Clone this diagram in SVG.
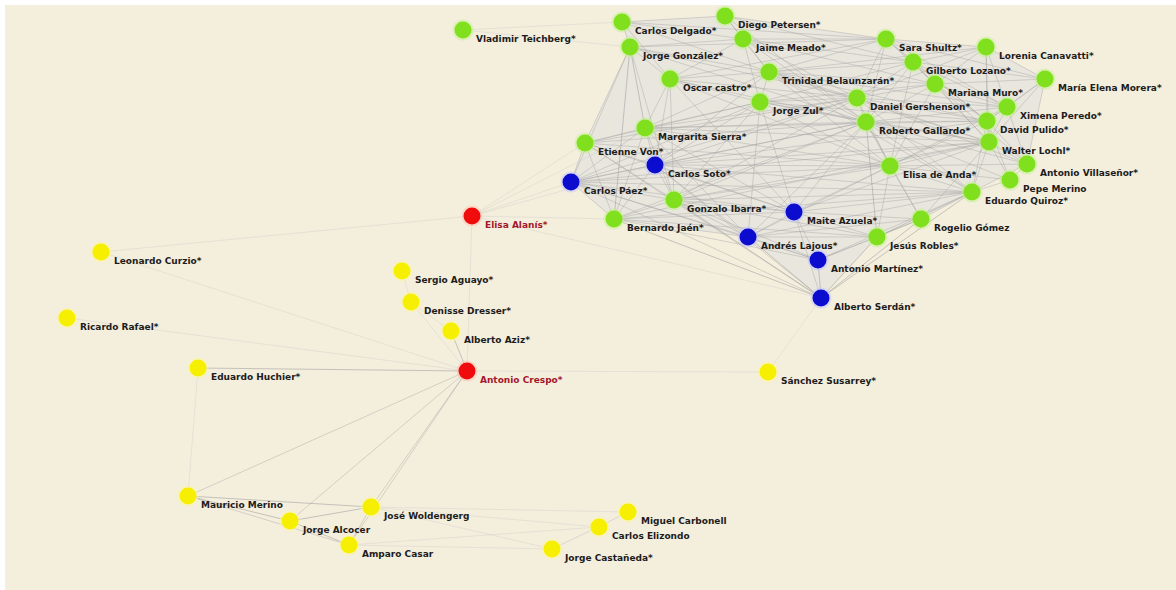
<svg xmlns="http://www.w3.org/2000/svg" width="1176" height="590" viewBox="0 0 1176 590">
<style>
  .bg { fill: #f4eedd; }
  .edge { stroke: #a0a0a0; stroke-width: 1; stroke-opacity: 0.4; fill: none; }
  .edge.faint { stroke: #c8c8c8; stroke-opacity: 0.35; }
  .edge.mid { stroke: #a4a4a4; stroke-opacity: 0.6; }
  .hull { fill: #dcdcdf; fill-opacity: 0.45; stroke: none; }
  .node .halo { opacity: 0.5; }
  .node text { font-family: "DejaVu Sans", Verdana, sans-serif; font-size: 9px; font-weight: bold; fill: #1c1c1c; }
  .green .dot { fill: #80e01e; }
  .green .halo { fill: #c2f28a; }
  .yellow .dot { fill: #f6f000; }
  .yellow .halo { fill: #fbf8a0; }
  .blue .dot { fill: #0c0ccf; }
  .blue .halo { fill: #c4c4ff; }
  .red .dot { fill: #f00c0c; }
  .red .halo { fill: #ffc0b0; }
  .red text { fill: #a3182a; }
</style>

<!-- canvas -->
<rect class="bg" x="0" y="0" width="1176" height="590"/>
<rect x="0" y="0" width="1176" height="5" fill="#ffffff"/>
<rect x="0" y="0" width="5" height="590" fill="#ffffff"/>

<g id="connectors">
  <!-- dense core of the upper cluster -->
  <polygon class="hull" points="630,47 622,22 725,16 886,39 986,47 1045,79 1027,164 972,192 921,219 877,237 821,298 748,237 614,219 571,182 585,143"/>
  <g class="cluster-edges">
    <line class="edge" x1="630" y1="47" x2="585" y2="143"/>
    <line class="edge mid" x1="630" y1="47" x2="645" y2="128"/>
    <line class="edge mid" x1="630" y1="47" x2="614" y2="219"/>
    <line class="edge" x1="630" y1="47" x2="571" y2="182"/>
    <line class="edge" x1="630" y1="47" x2="670" y2="79"/>
    <line class="edge" x1="630" y1="47" x2="743" y2="39"/>
    <line class="edge" x1="630" y1="47" x2="769" y2="72"/>
    <line class="edge" x1="630" y1="47" x2="866" y2="122"/>
    <line class="edge" x1="630" y1="47" x2="857" y2="98"/>
    <line class="edge" x1="630" y1="47" x2="622" y2="22"/>
    <line class="edge" x1="630" y1="47" x2="886" y2="39"/>
    <line class="edge" x1="630" y1="47" x2="674" y2="200"/>
    <line class="edge" x1="622" y1="22" x2="725" y2="16"/>
    <line class="edge" x1="622" y1="22" x2="743" y2="39"/>
    <line class="edge" x1="622" y1="22" x2="769" y2="72"/>
    <line class="edge" x1="622" y1="22" x2="886" y2="39"/>
    <line class="edge" x1="622" y1="22" x2="670" y2="79"/>
    <line class="edge" x1="725" y1="16" x2="743" y2="39"/>
    <line class="edge" x1="725" y1="16" x2="886" y2="39"/>
    <line class="edge" x1="725" y1="16" x2="769" y2="72"/>
    <line class="edge" x1="725" y1="16" x2="913" y2="62"/>
    <line class="edge" x1="725" y1="16" x2="866" y2="122"/>
    <line class="edge" x1="743" y1="39" x2="769" y2="72"/>
    <line class="edge" x1="743" y1="39" x2="886" y2="39"/>
    <line class="edge" x1="743" y1="39" x2="857" y2="98"/>
    <line class="edge" x1="743" y1="39" x2="760" y2="102"/>
    <line class="edge" x1="743" y1="39" x2="913" y2="62"/>
    <line class="edge" x1="743" y1="39" x2="935" y2="84"/>
    <line class="edge" x1="743" y1="39" x2="670" y2="79"/>
    <line class="edge" x1="743" y1="39" x2="866" y2="122"/>
    <line class="edge" x1="670" y1="79" x2="769" y2="72"/>
    <line class="edge" x1="670" y1="79" x2="760" y2="102"/>
    <line class="edge" x1="670" y1="79" x2="645" y2="128"/>
    <line class="edge" x1="670" y1="79" x2="655" y2="165"/>
    <line class="edge" x1="670" y1="79" x2="857" y2="98"/>
    <line class="edge" x1="670" y1="79" x2="866" y2="122"/>
    <line class="edge" x1="670" y1="79" x2="674" y2="200"/>
    <line class="edge" x1="670" y1="79" x2="890" y2="166"/>
    <line class="edge" x1="670" y1="79" x2="886" y2="39"/>
    <line class="edge" x1="670" y1="79" x2="794" y2="212"/>
    <line class="edge" x1="769" y1="72" x2="886" y2="39"/>
    <line class="edge" x1="769" y1="72" x2="913" y2="62"/>
    <line class="edge" x1="769" y1="72" x2="935" y2="84"/>
    <line class="edge" x1="769" y1="72" x2="857" y2="98"/>
    <line class="edge" x1="769" y1="72" x2="866" y2="122"/>
    <line class="edge" x1="769" y1="72" x2="760" y2="102"/>
    <line class="edge" x1="769" y1="72" x2="1007" y2="107"/>
    <line class="edge" x1="769" y1="72" x2="987" y2="121"/>
    <line class="edge" x1="769" y1="72" x2="989" y2="142"/>
    <line class="edge" x1="769" y1="72" x2="986" y2="47"/>
    <line class="edge" x1="769" y1="72" x2="890" y2="166"/>
    <line class="edge" x1="769" y1="72" x2="645" y2="128"/>
    <line class="edge" x1="769" y1="72" x2="655" y2="165"/>
    <line class="edge" x1="769" y1="72" x2="972" y2="192"/>
    <line class="edge" x1="760" y1="102" x2="857" y2="98"/>
    <line class="edge" x1="760" y1="102" x2="866" y2="122"/>
    <line class="edge" x1="760" y1="102" x2="645" y2="128"/>
    <line class="edge" x1="760" y1="102" x2="655" y2="165"/>
    <line class="edge" x1="760" y1="102" x2="674" y2="200"/>
    <line class="edge" x1="760" y1="102" x2="890" y2="166"/>
    <line class="edge" x1="760" y1="102" x2="935" y2="84"/>
    <line class="edge" x1="760" y1="102" x2="913" y2="62"/>
    <line class="edge" x1="760" y1="102" x2="989" y2="142"/>
    <line class="edge" x1="760" y1="102" x2="987" y2="121"/>
    <line class="edge" x1="760" y1="102" x2="585" y2="143"/>
    <line class="edge" x1="760" y1="102" x2="571" y2="182"/>
    <line class="edge" x1="760" y1="102" x2="794" y2="212"/>
    <line class="edge" x1="760" y1="102" x2="748" y2="237"/>
    <line class="edge" x1="886" y1="39" x2="986" y2="47"/>
    <line class="edge" x1="886" y1="39" x2="913" y2="62"/>
    <line class="edge" x1="886" y1="39" x2="935" y2="84"/>
    <line class="edge" x1="886" y1="39" x2="857" y2="98"/>
    <line class="edge" x1="886" y1="39" x2="866" y2="122"/>
    <line class="edge" x1="886" y1="39" x2="1007" y2="107"/>
    <line class="edge" x1="886" y1="39" x2="987" y2="121"/>
    <line class="edge" x1="886" y1="39" x2="1045" y2="79"/>
    <line class="edge" x1="986" y1="47" x2="913" y2="62"/>
    <line class="edge" x1="986" y1="47" x2="935" y2="84"/>
    <line class="edge" x1="986" y1="47" x2="1045" y2="79"/>
    <line class="edge" x1="986" y1="47" x2="1007" y2="107"/>
    <line class="edge" x1="986" y1="47" x2="987" y2="121"/>
    <line class="edge" x1="986" y1="47" x2="989" y2="142"/>
    <line class="edge" x1="986" y1="47" x2="857" y2="98"/>
    <line class="edge" x1="913" y1="62" x2="935" y2="84"/>
    <line class="edge" x1="913" y1="62" x2="857" y2="98"/>
    <line class="edge" x1="913" y1="62" x2="866" y2="122"/>
    <line class="edge" x1="913" y1="62" x2="1007" y2="107"/>
    <line class="edge" x1="913" y1="62" x2="987" y2="121"/>
    <line class="edge" x1="913" y1="62" x2="989" y2="142"/>
    <line class="edge" x1="913" y1="62" x2="1045" y2="79"/>
    <line class="edge" x1="913" y1="62" x2="890" y2="166"/>
    <line class="edge" x1="935" y1="84" x2="1045" y2="79"/>
    <line class="edge" x1="935" y1="84" x2="1007" y2="107"/>
    <line class="edge" x1="935" y1="84" x2="987" y2="121"/>
    <line class="edge" x1="935" y1="84" x2="989" y2="142"/>
    <line class="edge" x1="935" y1="84" x2="866" y2="122"/>
    <line class="edge" x1="935" y1="84" x2="857" y2="98"/>
    <line class="edge" x1="935" y1="84" x2="890" y2="166"/>
    <line class="edge" x1="935" y1="84" x2="1027" y2="164"/>
    <line class="edge" x1="1045" y1="79" x2="1007" y2="107"/>
    <line class="edge" x1="1045" y1="79" x2="987" y2="121"/>
    <line class="edge" x1="1045" y1="79" x2="989" y2="142"/>
    <line class="edge" x1="1045" y1="79" x2="1027" y2="164"/>
    <line class="edge" x1="857" y1="98" x2="866" y2="122"/>
    <line class="edge" x1="857" y1="98" x2="1007" y2="107"/>
    <line class="edge" x1="857" y1="98" x2="987" y2="121"/>
    <line class="edge" x1="857" y1="98" x2="989" y2="142"/>
    <line class="edge" x1="857" y1="98" x2="890" y2="166"/>
    <line class="edge" x1="857" y1="98" x2="645" y2="128"/>
    <line class="edge" x1="857" y1="98" x2="655" y2="165"/>
    <line class="edge" x1="857" y1="98" x2="674" y2="200"/>
    <line class="edge" x1="857" y1="98" x2="585" y2="143"/>
    <line class="edge" x1="857" y1="98" x2="571" y2="182"/>
    <line class="edge" x1="857" y1="98" x2="1027" y2="164"/>
    <line class="edge" x1="857" y1="98" x2="972" y2="192"/>
    <line class="edge" x1="866" y1="122" x2="1007" y2="107"/>
    <line class="edge" x1="866" y1="122" x2="987" y2="121"/>
    <line class="edge" x1="866" y1="122" x2="989" y2="142"/>
    <line class="edge" x1="866" y1="122" x2="890" y2="166"/>
    <line class="edge" x1="866" y1="122" x2="645" y2="128"/>
    <line class="edge" x1="866" y1="122" x2="655" y2="165"/>
    <line class="edge" x1="866" y1="122" x2="571" y2="182"/>
    <line class="edge" x1="866" y1="122" x2="585" y2="143"/>
    <line class="edge" x1="866" y1="122" x2="674" y2="200"/>
    <line class="edge" x1="866" y1="122" x2="614" y2="219"/>
    <line class="edge" x1="866" y1="122" x2="794" y2="212"/>
    <line class="edge" x1="866" y1="122" x2="748" y2="237"/>
    <line class="edge mid" x1="866" y1="122" x2="877" y2="237"/>
    <line class="edge" x1="866" y1="122" x2="972" y2="192"/>
    <line class="edge" x1="866" y1="122" x2="1010" y2="180"/>
    <line class="edge" x1="866" y1="122" x2="1027" y2="164"/>
    <line class="edge" x1="866" y1="122" x2="921" y2="219"/>
    <line class="edge" x1="1007" y1="107" x2="987" y2="121"/>
    <line class="edge" x1="1007" y1="107" x2="989" y2="142"/>
    <line class="edge" x1="1007" y1="107" x2="1027" y2="164"/>
    <line class="edge" x1="1007" y1="107" x2="890" y2="166"/>
    <line class="edge" x1="987" y1="121" x2="989" y2="142"/>
    <line class="edge" x1="987" y1="121" x2="1027" y2="164"/>
    <line class="edge" x1="987" y1="121" x2="1010" y2="180"/>
    <line class="edge" x1="987" y1="121" x2="972" y2="192"/>
    <line class="edge" x1="987" y1="121" x2="890" y2="166"/>
    <line class="edge" x1="987" y1="121" x2="645" y2="128"/>
    <line class="edge" x1="987" y1="121" x2="655" y2="165"/>
    <line class="edge" x1="989" y1="142" x2="1027" y2="164"/>
    <line class="edge" x1="989" y1="142" x2="1010" y2="180"/>
    <line class="edge" x1="989" y1="142" x2="972" y2="192"/>
    <line class="edge" x1="989" y1="142" x2="890" y2="166"/>
    <line class="edge" x1="989" y1="142" x2="921" y2="219"/>
    <line class="edge" x1="989" y1="142" x2="645" y2="128"/>
    <line class="edge" x1="989" y1="142" x2="655" y2="165"/>
    <line class="edge" x1="989" y1="142" x2="571" y2="182"/>
    <line class="edge" x1="989" y1="142" x2="674" y2="200"/>
    <line class="edge" x1="989" y1="142" x2="614" y2="219"/>
    <line class="edge" x1="989" y1="142" x2="794" y2="212"/>
    <line class="edge" x1="645" y1="128" x2="585" y2="143"/>
    <line class="edge" x1="645" y1="128" x2="655" y2="165"/>
    <line class="edge" x1="645" y1="128" x2="571" y2="182"/>
    <line class="edge" x1="645" y1="128" x2="674" y2="200"/>
    <line class="edge" x1="645" y1="128" x2="614" y2="219"/>
    <line class="edge" x1="645" y1="128" x2="890" y2="166"/>
    <line class="edge" x1="645" y1="128" x2="794" y2="212"/>
    <line class="edge" x1="645" y1="128" x2="748" y2="237"/>
    <line class="edge" x1="585" y1="143" x2="655" y2="165"/>
    <line class="edge" x1="585" y1="143" x2="571" y2="182"/>
    <line class="edge" x1="585" y1="143" x2="674" y2="200"/>
    <line class="edge" x1="585" y1="143" x2="614" y2="219"/>
    <line class="edge" x1="585" y1="143" x2="890" y2="166"/>
    <line class="edge" x1="585" y1="143" x2="794" y2="212"/>
    <line class="edge" x1="585" y1="143" x2="821" y2="298"/>
    <line class="edge" x1="655" y1="165" x2="571" y2="182"/>
    <line class="edge" x1="655" y1="165" x2="674" y2="200"/>
    <line class="edge" x1="655" y1="165" x2="614" y2="219"/>
    <line class="edge" x1="655" y1="165" x2="890" y2="166"/>
    <line class="edge" x1="655" y1="165" x2="794" y2="212"/>
    <line class="edge" x1="655" y1="165" x2="748" y2="237"/>
    <line class="edge" x1="655" y1="165" x2="972" y2="192"/>
    <line class="edge" x1="655" y1="165" x2="821" y2="298"/>
    <line class="edge" x1="571" y1="182" x2="674" y2="200"/>
    <line class="edge" x1="571" y1="182" x2="614" y2="219"/>
    <line class="edge" x1="571" y1="182" x2="890" y2="166"/>
    <line class="edge" x1="571" y1="182" x2="794" y2="212"/>
    <line class="edge" x1="571" y1="182" x2="748" y2="237"/>
    <line class="edge" x1="571" y1="182" x2="821" y2="298"/>
    <line class="edge" x1="571" y1="182" x2="818" y2="260"/>
    <line class="edge" x1="571" y1="182" x2="972" y2="192"/>
    <line class="edge" x1="890" y1="166" x2="1027" y2="164"/>
    <line class="edge" x1="890" y1="166" x2="1010" y2="180"/>
    <line class="edge" x1="890" y1="166" x2="972" y2="192"/>
    <line class="edge" x1="890" y1="166" x2="921" y2="219"/>
    <line class="edge" x1="890" y1="166" x2="877" y2="237"/>
    <line class="edge" x1="890" y1="166" x2="674" y2="200"/>
    <line class="edge" x1="890" y1="166" x2="794" y2="212"/>
    <line class="edge" x1="890" y1="166" x2="748" y2="237"/>
    <line class="edge" x1="1027" y1="164" x2="1010" y2="180"/>
    <line class="edge" x1="1027" y1="164" x2="972" y2="192"/>
    <line class="edge" x1="1010" y1="180" x2="972" y2="192"/>
    <line class="edge" x1="972" y1="192" x2="921" y2="219"/>
    <line class="edge mid" x1="972" y1="192" x2="877" y2="237"/>
    <line class="edge" x1="972" y1="192" x2="794" y2="212"/>
    <line class="edge" x1="972" y1="192" x2="748" y2="237"/>
    <line class="edge" x1="972" y1="192" x2="818" y2="260"/>
    <line class="edge mid" x1="972" y1="192" x2="821" y2="298"/>
    <line class="edge" x1="972" y1="192" x2="674" y2="200"/>
    <line class="edge" x1="972" y1="192" x2="614" y2="219"/>
    <line class="edge" x1="674" y1="200" x2="614" y2="219"/>
    <line class="edge" x1="674" y1="200" x2="794" y2="212"/>
    <line class="edge" x1="674" y1="200" x2="748" y2="237"/>
    <line class="edge" x1="674" y1="200" x2="818" y2="260"/>
    <line class="edge mid" x1="674" y1="200" x2="821" y2="298"/>
    <line class="edge" x1="674" y1="200" x2="877" y2="237"/>
    <line class="edge" x1="794" y1="212" x2="748" y2="237"/>
    <line class="edge" x1="794" y1="212" x2="818" y2="260"/>
    <line class="edge" x1="794" y1="212" x2="821" y2="298"/>
    <line class="edge" x1="794" y1="212" x2="877" y2="237"/>
    <line class="edge" x1="794" y1="212" x2="921" y2="219"/>
    <line class="edge" x1="794" y1="212" x2="614" y2="219"/>
    <line class="edge" x1="614" y1="219" x2="748" y2="237"/>
    <line class="edge mid" x1="614" y1="219" x2="821" y2="298"/>
    <line class="edge" x1="614" y1="219" x2="818" y2="260"/>
    <line class="edge" x1="614" y1="219" x2="877" y2="237"/>
    <line class="edge" x1="921" y1="219" x2="877" y2="237"/>
    <line class="edge" x1="921" y1="219" x2="818" y2="260"/>
    <line class="edge mid" x1="921" y1="219" x2="821" y2="298"/>
    <line class="edge" x1="921" y1="219" x2="748" y2="237"/>
    <line class="edge" x1="748" y1="237" x2="818" y2="260"/>
    <line class="edge mid" x1="748" y1="237" x2="821" y2="298"/>
    <line class="edge" x1="748" y1="237" x2="877" y2="237"/>
    <line class="edge" x1="877" y1="237" x2="818" y2="260"/>
    <line class="edge mid" x1="877" y1="237" x2="821" y2="298"/>
    <line class="edge mid" x1="818" y1="260" x2="821" y2="298"/>
  </g>

  <!-- weak ties reaching outside the cluster -->
  <g class="weak-edges">
    <line class="edge faint" x1="463" y1="30" x2="630" y2="47"/>
    <line class="edge faint" x1="463" y1="30" x2="622" y2="22"/>
    <line class="edge faint" x1="472" y1="216" x2="571" y2="182"/>
    <line class="edge faint" x1="472" y1="216" x2="585" y2="143"/>
    <line class="edge faint" x1="472" y1="216" x2="614" y2="219"/>
    <line class="edge faint" x1="472" y1="216" x2="655" y2="165"/>
    <line class="edge faint" x1="472" y1="216" x2="645" y2="128"/>
    <line class="edge faint" x1="472" y1="216" x2="467" y2="371"/>
    <line class="edge faint" x1="472" y1="216" x2="821" y2="298"/>
    <line class="edge faint" x1="101" y1="252" x2="472" y2="216"/>
    <line class="edge faint" x1="768" y1="372" x2="821" y2="298"/>
    <line class="edge faint" x1="768" y1="372" x2="467" y2="371"/>
    <line class="edge faint" x1="67" y1="318" x2="467" y2="371"/>
    <line class="edge faint" x1="101" y1="252" x2="467" y2="371"/>
  </g>

  <!-- lower group around Antonio Crespo -->
  <g class="lower-edges">
    <line class="edge mid" x1="467" y1="371" x2="198" y2="368"/>
    <line class="edge mid" x1="467" y1="371" x2="451" y2="331"/>
    <line class="edge faint" x1="451" y1="331" x2="411" y2="302"/>
    <line class="edge faint" x1="411" y1="302" x2="402" y2="271"/>
    <line class="edge faint" x1="467" y1="371" x2="411" y2="302"/>
    <line class="edge" x1="467" y1="371" x2="188" y2="496"/>
    <line class="edge" x1="467" y1="371" x2="371" y2="507"/>
    <line class="edge" x1="467" y1="371" x2="290" y2="521"/>
    <line class="edge" x1="467" y1="371" x2="349" y2="545"/>
    <line class="edge mid" x1="188" y1="496" x2="371" y2="507"/>
    <line class="edge mid" x1="188" y1="496" x2="290" y2="521"/>
    <line class="edge" x1="188" y1="496" x2="349" y2="545"/>
    <line class="edge mid" x1="290" y1="521" x2="371" y2="507"/>
    <line class="edge mid" x1="290" y1="521" x2="349" y2="545"/>
    <line class="edge" x1="371" y1="507" x2="349" y2="545"/>
    <line class="edge faint" x1="371" y1="507" x2="599" y2="527"/>
    <line class="edge faint" x1="371" y1="507" x2="628" y2="512"/>
    <line class="edge faint" x1="371" y1="507" x2="552" y2="549"/>
    <line class="edge faint" x1="349" y1="545" x2="552" y2="549"/>
    <line class="edge faint" x1="349" y1="545" x2="599" y2="527"/>
    <line class="edge faint" x1="599" y1="527" x2="628" y2="512"/>
    <line class="edge faint" x1="599" y1="527" x2="552" y2="549"/>
    <line class="edge faint" x1="552" y1="549" x2="628" y2="512"/>
    <line class="edge faint" x1="198" y1="368" x2="188" y2="496"/>
  </g>
</g>

<!-- upper cluster -->
<g id="n-vladimir-teichberg" class="node green" transform="translate(463,30)"><circle class="halo" r="10.5"/><circle class="dot" r="8.5"/><text x="13" y="12">Vladimir Teichberg*</text></g>
<g id="n-carlos-delgado" class="node green" transform="translate(622,22)"><circle class="halo" r="10.5"/><circle class="dot" r="8.5"/><text x="13" y="12">Carlos Delgado*</text></g>
<g id="n-diego-petersen" class="node green" transform="translate(725,16)"><circle class="halo" r="10.5"/><circle class="dot" r="8.5"/><text x="13" y="12">Diego Petersen*</text></g>
<g id="n-jorge-gonzalez" class="node green" transform="translate(630,47)"><circle class="halo" r="10.5"/><circle class="dot" r="8.5"/><text x="13" y="12">Jorge González*</text></g>
<g id="n-jaime-meado" class="node green" transform="translate(743,39)"><circle class="halo" r="10.5"/><circle class="dot" r="8.5"/><text x="13" y="12">Jaime Meado*</text></g>
<g id="n-oscar-castro" class="node green" transform="translate(670,79)"><circle class="halo" r="10.5"/><circle class="dot" r="8.5"/><text x="13" y="12">Oscar castro*</text></g>
<g id="n-trinidad-belaunzaran" class="node green" transform="translate(769,72)"><circle class="halo" r="10.5"/><circle class="dot" r="8.5"/><text x="13" y="12">Trinidad Belaunzarán*</text></g>
<g id="n-jorge-zul" class="node green" transform="translate(760,102)"><circle class="halo" r="10.5"/><circle class="dot" r="8.5"/><text x="13" y="12">Jorge Zul*</text></g>
<g id="n-sara-shultz" class="node green" transform="translate(886,39)"><circle class="halo" r="10.5"/><circle class="dot" r="8.5"/><text x="13" y="12">Sara Shultz*</text></g>
<g id="n-lorena-canavatti" class="node green" transform="translate(986,47)"><circle class="halo" r="10.5"/><circle class="dot" r="8.5"/><text x="13" y="12">Lorenia Canavatti*</text></g>
<g id="n-gilberto-lozano" class="node green" transform="translate(913,62)"><circle class="halo" r="10.5"/><circle class="dot" r="8.5"/><text x="13" y="12">Gilberto Lozano*</text></g>
<g id="n-mariana-muro" class="node green" transform="translate(935,84)"><circle class="halo" r="10.5"/><circle class="dot" r="8.5"/><text x="13" y="12">Mariana Muro*</text></g>
<g id="n-maria-elena-morera" class="node green" transform="translate(1045,79)"><circle class="halo" r="10.5"/><circle class="dot" r="8.5"/><text x="13" y="12">María Elena Morera*</text></g>
<g id="n-daniel-gershenson" class="node green" transform="translate(857,98)"><circle class="halo" r="10.5"/><circle class="dot" r="8.5"/><text x="13" y="12">Daniel Gershenson*</text></g>
<g id="n-ximena-peredo" class="node green" transform="translate(1007,107)"><circle class="halo" r="10.5"/><circle class="dot" r="8.5"/><text x="13" y="12">Ximena Peredo*</text></g>
<g id="n-roberto-gallardo" class="node green" transform="translate(866,122)"><circle class="halo" r="10.5"/><circle class="dot" r="8.5"/><text x="13" y="12">Roberto Gallardo*</text></g>
<g id="n-david-pulido" class="node green" transform="translate(987,121)"><circle class="halo" r="10.5"/><circle class="dot" r="8.5"/><text x="13" y="12">David Pulido*</text></g>
<g id="n-walter-lochl" class="node green" transform="translate(989,142)"><circle class="halo" r="10.5"/><circle class="dot" r="8.5"/><text x="13" y="12">Walter Lochl*</text></g>
<g id="n-margarita-sierra" class="node green" transform="translate(645,128)"><circle class="halo" r="10.5"/><circle class="dot" r="8.5"/><text x="13" y="12">Margarita Sierra*</text></g>
<g id="n-etienne-von" class="node green" transform="translate(585,143)"><circle class="halo" r="10.5"/><circle class="dot" r="8.5"/><text x="13" y="12">Etienne Von*</text></g>
<g id="n-carlos-soto" class="node blue" transform="translate(655,165)"><circle class="halo" r="10.5"/><circle class="dot" r="8.5"/><text x="13" y="12">Carlos Soto*</text></g>
<g id="n-carlos-paez" class="node blue" transform="translate(571,182)"><circle class="halo" r="10.5"/><circle class="dot" r="8.5"/><text x="13" y="12">Carlos Páez*</text></g>
<g id="n-elisa-de-anda" class="node green" transform="translate(890,166)"><circle class="halo" r="10.5"/><circle class="dot" r="8.5"/><text x="13" y="12">Elisa de Anda*</text></g>
<g id="n-antonio-villasenor" class="node green" transform="translate(1027,164)"><circle class="halo" r="10.5"/><circle class="dot" r="8.5"/><text x="13" y="12">Antonio Villaseñor*</text></g>
<g id="n-pepe-merino" class="node green" transform="translate(1010,180)"><circle class="halo" r="10.5"/><circle class="dot" r="8.5"/><text x="13" y="12">Pepe Merino</text></g>
<g id="n-eduardo-quiroz" class="node green" transform="translate(972,192)"><circle class="halo" r="10.5"/><circle class="dot" r="8.5"/><text x="13" y="12">Eduardo Quiroz*</text></g>
<g id="n-gonzalo-ibarra" class="node green" transform="translate(674,200)"><circle class="halo" r="10.5"/><circle class="dot" r="8.5"/><text x="13" y="12">Gonzalo Ibarra*</text></g>
<g id="n-maite-azuela" class="node blue" transform="translate(794,212)"><circle class="halo" r="10.5"/><circle class="dot" r="8.5"/><text x="13" y="12">Maite Azuela*</text></g>
<g id="n-bernardo-jaen" class="node green" transform="translate(614,219)"><circle class="halo" r="10.5"/><circle class="dot" r="8.5"/><text x="13" y="12">Bernardo Jaén*</text></g>
<g id="n-rogelio-gomez" class="node green" transform="translate(921,219)"><circle class="halo" r="10.5"/><circle class="dot" r="8.5"/><text x="13" y="12">Rogelio Gómez</text></g>
<g id="n-andres-lajous" class="node blue" transform="translate(748,237)"><circle class="halo" r="10.5"/><circle class="dot" r="8.5"/><text x="13" y="12">Andrés Lajous*</text></g>
<g id="n-jesus-robles" class="node green" transform="translate(877,237)"><circle class="halo" r="10.5"/><circle class="dot" r="8.5"/><text x="13" y="12">Jesús Robles*</text></g>
<g id="n-antonio-martinez" class="node blue" transform="translate(818,260)"><circle class="halo" r="10.5"/><circle class="dot" r="8.5"/><text x="13" y="12">Antonio Martínez*</text></g>
<g id="n-alberto-serdan" class="node blue" transform="translate(821,298)"><circle class="halo" r="10.5"/><circle class="dot" r="8.5"/><text x="13" y="12">Alberto Serdán*</text></g>

<!-- bridging nodes -->
<g id="n-elisa-alanis" class="node red" transform="translate(472,216)"><circle class="halo" r="10.5"/><circle class="dot" r="8.5"/><text x="13" y="12">Elisa Alanís*</text></g>
<g id="n-antonio-crespo" class="node red" transform="translate(467,371)"><circle class="halo" r="10.5"/><circle class="dot" r="8.5"/><text x="13" y="12">Antonio Crespo*</text></g>

<!-- lower group -->
<g id="n-leonardo-curzio" class="node yellow" transform="translate(101,252)"><circle class="halo" r="10.5"/><circle class="dot" r="8.5"/><text x="13" y="12">Leonardo Curzio*</text></g>
<g id="n-sergio-aguayo" class="node yellow" transform="translate(402,271)"><circle class="halo" r="10.5"/><circle class="dot" r="8.5"/><text x="13" y="12">Sergio Aguayo*</text></g>
<g id="n-denisse-dresser" class="node yellow" transform="translate(411,302)"><circle class="halo" r="10.5"/><circle class="dot" r="8.5"/><text x="13" y="12">Denisse Dresser*</text></g>
<g id="n-ricardo-rafael" class="node yellow" transform="translate(67,318)"><circle class="halo" r="10.5"/><circle class="dot" r="8.5"/><text x="13" y="12">Ricardo Rafael*</text></g>
<g id="n-alberto-aziz" class="node yellow" transform="translate(451,331)"><circle class="halo" r="10.5"/><circle class="dot" r="8.5"/><text x="13" y="12">Alberto Aziz*</text></g>
<g id="n-eduardo-huchier" class="node yellow" transform="translate(198,368)"><circle class="halo" r="10.5"/><circle class="dot" r="8.5"/><text x="13" y="12">Eduardo Huchier*</text></g>
<g id="n-sanchez-susarrey" class="node yellow" transform="translate(768,372)"><circle class="halo" r="10.5"/><circle class="dot" r="8.5"/><text x="13" y="12">Sánchez Susarrey*</text></g>
<g id="n-mauricio-merino" class="node yellow" transform="translate(188,496)"><circle class="halo" r="10.5"/><circle class="dot" r="8.5"/><text x="13" y="12">Mauricio Merino</text></g>
<g id="n-jose-woldenberg" class="node yellow" transform="translate(371,507)"><circle class="halo" r="10.5"/><circle class="dot" r="8.5"/><text x="13" y="12">José Woldengerg</text></g>
<g id="n-jorge-alcocer" class="node yellow" transform="translate(290,521)"><circle class="halo" r="10.5"/><circle class="dot" r="8.5"/><text x="13" y="12">Jorge Alcocer</text></g>
<g id="n-amparo-casar" class="node yellow" transform="translate(349,545)"><circle class="halo" r="10.5"/><circle class="dot" r="8.5"/><text x="13" y="12">Amparo Casar</text></g>
<g id="n-miguel-carbonell" class="node yellow" transform="translate(628,512)"><circle class="halo" r="10.5"/><circle class="dot" r="8.5"/><text x="13" y="12">Miguel Carbonell</text></g>
<g id="n-carlos-elizondo" class="node yellow" transform="translate(599,527)"><circle class="halo" r="10.5"/><circle class="dot" r="8.5"/><text x="13" y="12">Carlos Elizondo</text></g>
<g id="n-jorge-castaneda" class="node yellow" transform="translate(552,549)"><circle class="halo" r="10.5"/><circle class="dot" r="8.5"/><text x="13" y="12">Jorge Castañeda*</text></g>
</svg>
